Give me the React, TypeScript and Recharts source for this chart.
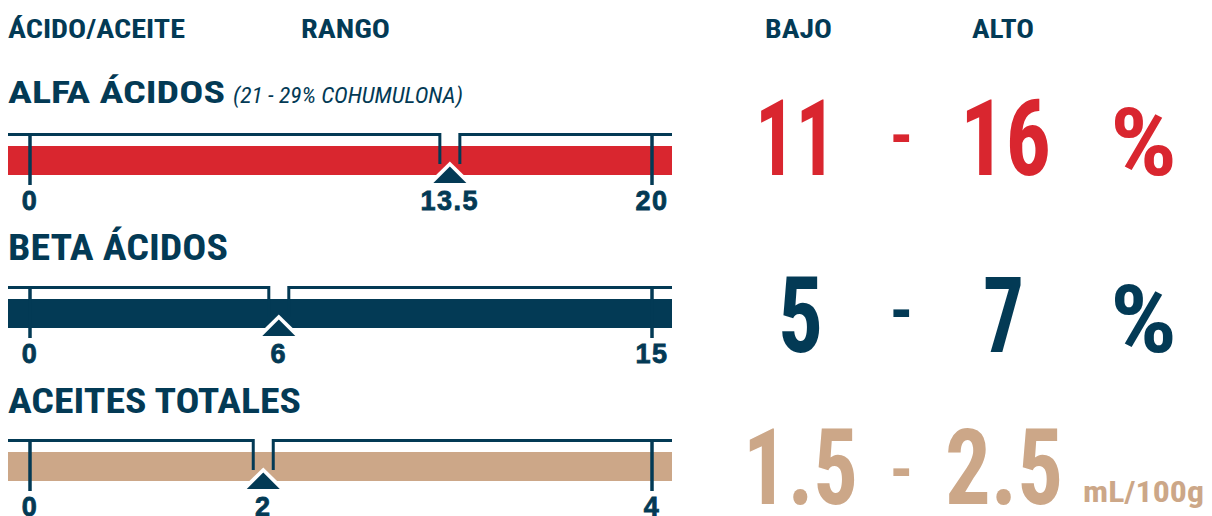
import React from "react";
import { BarChart, Bar, XAxis, YAxis } from "recharts";

// ---------- data ----------
const headers = ["ÁCIDO/ACEITE", "RANGO", "BAJO", "ALTO"];
const rowNames = ["ALFA ÁCIDOS", "BETA ÁCIDOS", "ACEITES TOTALES"];
const rowNotes = ["(21 - 29% COHUMULONA)", "", ""];
const scaleMax = [20, 15, 4];
const markerPos = [13.5, 6, 1.5];
const markerLabels = ["13.5", "6", "2"];
const lowValues = ["11", "5", "1.5"];
const highValues = ["16", "7", "2.5"];
const units = ["%", "%", "mL/100g"];

// ---------- styles ----------
const NAVY = "#033a55";
const RED = "#d9262f";
const TAN = "#cca788";
const rowColors = [RED, NAVY, TAN];
const COND = "'Liberation Sans Narrow', 'Roboto Condensed', 'Liberation Sans', Arial, sans-serif";
const WIDE = "'Liberation Sans', Arial, sans-serif";

const chartTops = [120, 273, 426];
const titleBase = [103, 260, 413];
const titleSize = [32, 36, 35];
const titleLen = [217, 220, 293];
const numBase = [175, 352, 504];
const lowX = [755, 778, 743];
const lowLen = [81, 45, 115];
const highX = [960, 983, 945];
const highLen = [91, 41, 118];
const dashBase = [159, 334, 493];

function TickText({ x, y, children }: any) {
  return (
    <text
      x={x}
      y={y}
      textAnchor="middle"
      fontFamily={WIDE}
      fontWeight={700}
      fontSize={27}
      letterSpacing={1.5}
      fill={NAVY}
      stroke={NAVY}
      strokeWidth={0.8}
    >
      {children}
    </text>
  );
}

function GaugeTick(props: any) {
  const { x, y, payload } = props;
  return (
    <g>
      <line x1={x} x2={x} y1={y - 42} y2={y + 10} stroke={NAVY} strokeWidth={3.5} />
      <TickText x={x} y={y + 35}>
        {payload.value}
      </TickText>
    </g>
  );
}

function GaugeShape(props: any) {
  const { x, y, width, height, background, payload } = props;
  const cx = x + width;
  const yb = y + height;
  const left = background ? background.x : 8;
  const right = background ? background.x + background.width : 672;
  const by = y - 11.5;
  const bracket = `M${left},${by} H${cx - 10} V${yb - 11} M${cx + 10},${yb - 11} V${by} H${right}`;
  const white = `${cx - 22},${yb + 8} ${cx},${yb - 13.5} ${cx + 22},${yb + 8}`;
  const dark = `${cx - 16.5},${yb + 8} ${cx},${yb - 8.5} ${cx + 16.5},${yb + 8}`;
  return (
    <g>
      <path d={bracket} stroke={NAVY} strokeWidth={3} fill="none" />
      <polygon points={white} fill="#ffffff" />
      <polygon points={dark} fill={NAVY} />
      <TickText x={cx} y={yb + 35}>
        {payload.label}
      </TickText>
    </g>
  );
}

function Gauge({ i }: { i: number }) {
  const data = [{ name: rowNames[i], marker: markerPos[i], label: markerLabels[i] }];
  return (
    <div style={{ position: "absolute", left: 0, top: chartTops[i] }}>
      <BarChart
        layout="vertical"
        width={680}
        height={102}
        data={data}
        margin={{ top: 26, right: 8, bottom: 0, left: 8 }}
        barCategoryGap={0}
        style={{ overflow: "visible" }}
      >
        <YAxis type="category" dataKey="name" hide />
        <Bar
          dataKey="marker"
          isAnimationActive={false}
          background={{ fill: rowColors[i] }}
          shape={(p: any) => <GaugeShape {...p} />}
        />
        <XAxis
          type="number"
          domain={[0, scaleMax[i]]}
          ticks={[0, scaleMax[i]]}
          padding={{ left: 22, right: 20 }}
          axisLine={false}
          tickLine={false}
          tickSize={0}
          tickMargin={0}
          height={47}
          interval={0}
          tick={(p: any) => <GaugeTick {...p} />}
        />
      </BarChart>
    </div>
  );
}

export default function App() {
  return (
    <div
      style={{
        position: "absolute",
        left: 0,
        top: 0,
        width: 1212,
        height: 516,
        overflow: "hidden",
        background: "#ffffff",
      }}
    >
      {[0, 1, 2].map((i) => (
        <Gauge key={i} i={i} />
      ))}
      <svg
        width={1212}
        height={516}
        style={{ position: "absolute", left: 0, top: 0, pointerEvents: "none" }}
      >
        {/* column headers */}
        <g fontFamily={COND} fontWeight={700} fontSize={25} fill={NAVY}>
          <text x={8} y={38} textLength={177} lengthAdjust="spacingAndGlyphs">{headers[0]}</text>
          <text x={301} y={38} textLength={89} lengthAdjust="spacingAndGlyphs">{headers[1]}</text>
          <text x={765} y={38} textLength={67} lengthAdjust="spacingAndGlyphs">{headers[2]}</text>
          <text x={972} y={38} textLength={62} lengthAdjust="spacingAndGlyphs">{headers[3]}</text>
        </g>
        {[0, 1, 2].map((i) => (
          <g key={i}>
            <text
              x={8}
              y={titleBase[i]}
              fontFamily={COND}
              fontWeight={700}
              fontSize={titleSize[i]}
              fill={NAVY}
              textLength={titleLen[i]}
              lengthAdjust="spacingAndGlyphs"
            >
              {rowNames[i]}
            </text>
            {rowNotes[i] ? (
              <text
                x={233}
                y={titleBase[i]}
                fontFamily={COND}
                fontStyle="italic"
                fontWeight={400}
                fontSize={22}
                fill={NAVY}
                textLength={230}
                lengthAdjust="spacingAndGlyphs"
              >
                {rowNotes[i]}
              </text>
            ) : null}
            <g fontFamily={COND} fontWeight={700} fill={rowColors[i]}>
              <text x={lowX[i]} y={numBase[i]} fontSize={105} textLength={lowLen[i]} lengthAdjust="spacingAndGlyphs">
                {lowValues[i]}
              </text>
              <text x={901.5} y={dashBase[i]} fontSize={66} textAnchor="middle">
                -
              </text>
              <text x={highX[i]} y={numBase[i]} fontSize={105} textLength={highLen[i]} lengthAdjust="spacingAndGlyphs">
                {highValues[i]}
              </text>
              {units[i] === "%" ? (
                <text x={1110} y={numBase[i]} fontSize={94} textLength={67} lengthAdjust="spacingAndGlyphs">
                  {units[i]}
                </text>
              ) : (
                <text x={1083} y={502} fontSize={30} textLength={121} lengthAdjust="spacingAndGlyphs">
                  {units[i]}
                </text>
              )}
            </g>
          </g>
        ))}
      </svg>
    </div>
  );
}
